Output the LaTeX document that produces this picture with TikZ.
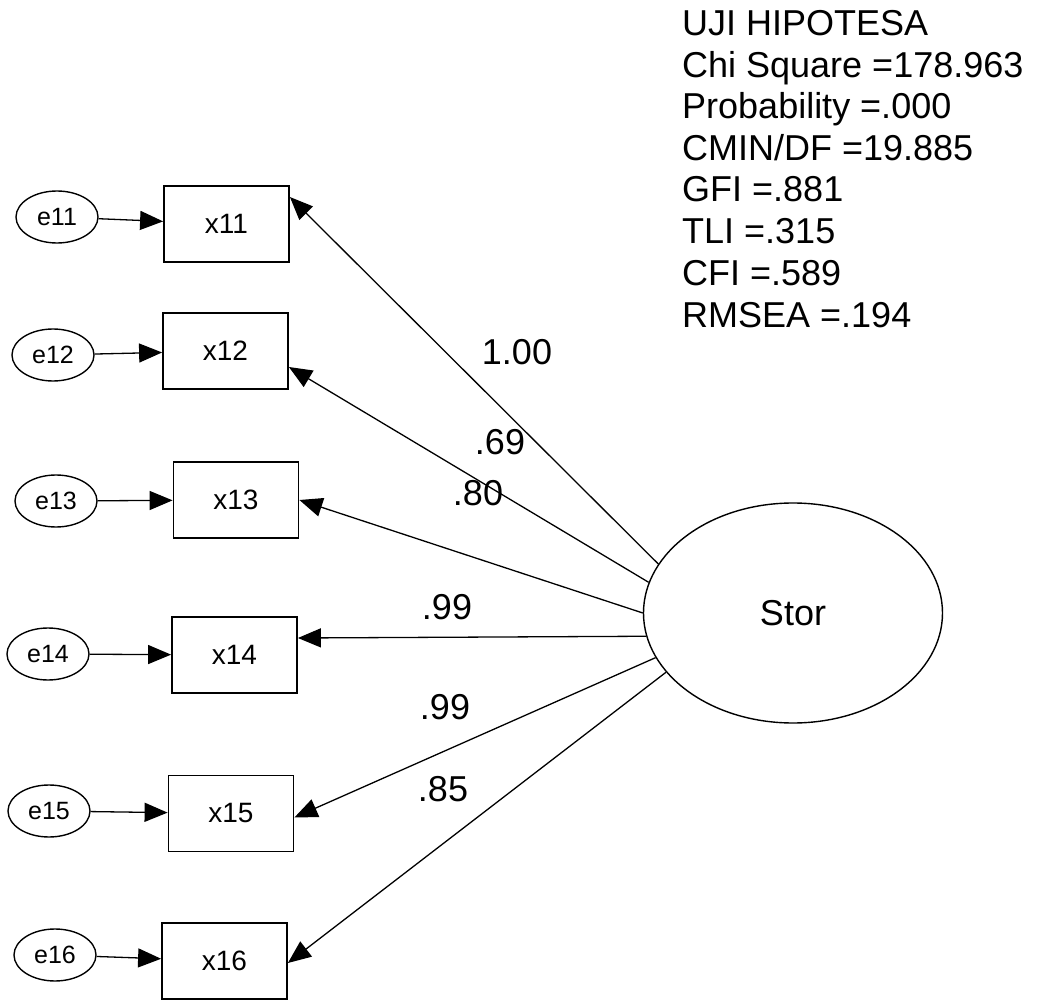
\documentclass[tikz,border=0pt]{standalone}
\usepackage{fontspec}
\setmainfont{Liberation Sans}
\usetikzlibrary{arrows.meta,shapes.geometric}
\begin{document}
\begin{tikzpicture}[x=1pt,y=-1pt,
  obs/.style={draw,line width=1.8pt,minimum width=125pt,minimum height=76pt,inner sep=0pt,font=\fontsize{28}{30}\selectfont},
  err/.style={draw,ellipse,line width=1.4pt,minimum width=82pt,minimum height=52pt,inner sep=0pt,font=\fontsize{25}{27}\selectfont},
  lat/.style={draw,ellipse,line width=1.4pt,minimum width=299pt,minimum height=220pt,inner sep=0pt,font=\fontsize{36}{40}\selectfont},
  conn/.style={line width=1.3pt,-{Triangle[length=23pt,width=19pt]}},
  lbl/.style={font=\fontsize{36}{40}\selectfont,inner sep=0pt},
  stat/.style={anchor=base west,font=\fontsize{36}{40}\selectfont,inner sep=0pt}]
\useasboundingbox (0,0) rectangle (1045,1003);

% observed variables
\node[obs] (x11) at (226.5,224) {x11};
\node[obs] (x12) at (225.5,351) {x12};
\node[obs] (x13) at (236,500) {x13};
\node[obs] (x14) at (234.5,655) {x14};
\node[obs] (x15) at (231,813.5) {x15};
\node[obs] (x16) at (224.5,961) {x16};

% error terms
\node[err] (e11) at (57,217) {e11};
\node[err] (e12) at (53,355) {e12};
\node[err] (e13) at (56,501) {e13};
\node[err] (e14) at (48,654) {e14};
\node[err] (e15) at (49,811) {e15};
\node[err] (e16) at (55,955) {e16};

% latent
\node[lat] (stor) at (793,613) {Stor};

% error arrows
\foreach \i in {11,12,13,14,15,16}{
  \draw[conn] (e\i) -- (x\i);
}

% loadings
\draw[conn] (stor.160.5) -- ([yshift=27pt]x11.east);
\draw[conn] (stor.168.5) -- ([yshift=-16pt]x12.east);
\draw[conn] (stor.180) -- (x13.east);
\draw[conn] (stor.189.2) -- ([yshift=17pt]x14.east);
\draw[conn] (stor.198) -- ([yshift=-4pt]x15.east);
\draw[conn] (stor.205.5) -- ([yshift=-2pt]x16.east);

% loading labels
\node[lbl] (l1) at (517,352) {1.00};
\node[lbl] (l2) at (500,442) {.69};
\node[lbl] (l3) at (478,493) {.80};
\node[lbl] (l4) at (447,607) {.99};
\node[lbl] (l5) at (445,707) {.99};
\node[lbl] (l6) at (443,789) {.85};

% fit statistics
\node[stat] (s1) at (682,36) {UJI HIPOTESA};
\node[stat] (s2) at (682,77.6) {Chi Square =178.963};
\node[stat] (s3) at (682,119) {Probability =.000};
\node[stat] (s4) at (682,161) {CMIN/DF =19.885};
\node[stat] (s5) at (682,202) {GFI =.881};
\node[stat] (s6) at (682,244) {TLI =.315};
\node[stat] (s7) at (682,286) {CFI =.589};
\node[stat] (s8) at (682,327) {RMSEA =.194};
\end{tikzpicture}
\end{document}
